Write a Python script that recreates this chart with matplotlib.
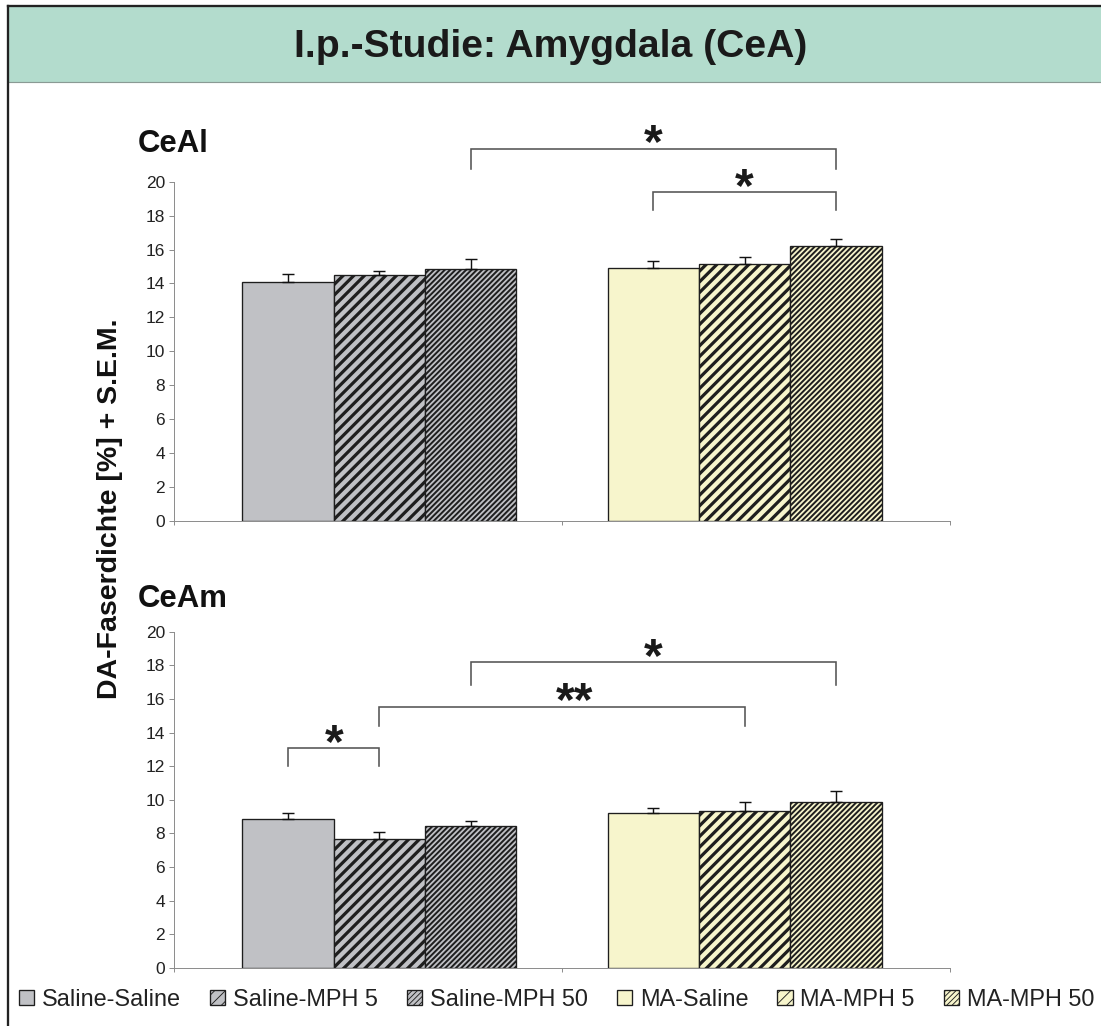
import matplotlib
matplotlib.use("Agg")
import matplotlib.pyplot as plt
import matplotlib.patches as mpatches
import numpy as np

# ---- data -------------------------------------------------------------
groups = ["Saline-Saline", "Saline-MPH 5", "Saline-MPH 50",
          "MA-Saline", "MA-MPH 5", "MA-MPH 50"]

ceal_mean = [14.1, 14.5, 14.85, 14.9, 15.15, 16.2]
ceal_sem = [0.44, 0.25, 0.58, 0.43, 0.41, 0.44]

ceam_mean = [8.85, 7.7, 8.45, 9.2, 9.35, 9.85]
ceam_sem = [0.35, 0.37, 0.32, 0.32, 0.5, 0.68]

# significance brackets: (bar a, bar b, bar level, leg end, label)
ceal_sig = [(2, 5, 21.95, 20.77, "*"), (3, 5, 19.41, 18.34, "*")]
ceam_sig = [(0, 1, 13.1, 12.0, "*"), (1, 4, 15.55, 14.4, "**"),
            (2, 5, 18.2, 16.85, "*")]

yticks = [0, 2, 4, 6, 8, 10, 12, 14, 16, 18, 20]

# ---- styling ----------------------------------------------------------
GRAY = "#c0c1c5"
CREAM = "#f7f5cc"
face = [GRAY, GRAY, GRAY, CREAM, CREAM, CREAM]
hatch = [None, "//", "////", None, "//", "////"]
hatch_lw = [1.0, 3.6, 2.2, 1.0, 3.6, 2.2]
AXIS_C = "#8c8c8c"
BRACKET_C = "#555555"
SANS = "Liberation Sans"
# horizontal nudge (points) for the wider double-star label
label_nudge = {"*": 0.0, "**": 14.0}

DPI = 64
fig = plt.figure(figsize=(1101 / DPI, 1026 / DPI), dpi=DPI)
plt.rcParams["font.family"] = [SANS, "DejaVu Sans"]

# outer frame and title band (kept behind the axes)
fig.patches.append(mpatches.Rectangle((8 / 1101, 1 - 82 / 1026), 1.05, 76 / 1026,
                                      transform=fig.transFigure, facecolor="#b3dccd",
                                      edgecolor="none", zorder=-5))
fig.add_artist(plt.Line2D([8 / 1101, 1.0], [1 - 82 / 1026] * 2, color="#8a9a94",
                          lw=1.3, transform=fig.transFigure, zorder=-4))
fig.add_artist(plt.Line2D([8 / 1101, 1.0], [1 - 6 / 1026] * 2, color="#222222",
                          lw=2.6, transform=fig.transFigure, zorder=-4))
fig.add_artist(plt.Line2D([8 / 1101] * 2, [0.0, 1 - 6 / 1026], color="#222222",
                          lw=2.6, transform=fig.transFigure, zorder=-4))

fig.text(0.5, 1 - 47 / 1026, "I.p.-Studie: Amygdala (CeA)",
         weight="bold", fontsize=44, ha="center", va="center",
         color="#1a1a1a")

x = np.array([0, 1, 2, 4, 5, 6], dtype=float)
left, width = 174 / 1101, 776 / 1101
ax_top = fig.add_axes([left, 1 - 521 / 1026, width, 339.3 / 1026])
ax_bot = fig.add_axes([left, 1 - 968 / 1026, width, 336.3 / 1026])


def draw_panel(ax, means, sems, sig):
    for i in range(len(means)):
        with plt.rc_context({"hatch.linewidth": hatch_lw[i]}):
            ax.bar(x[i], means[i], width=1.0, color=face[i], hatch=hatch[i],
                   edgecolor="#1e1e1e", linewidth=1.5, zorder=2,
                   label=groups[i])
    ax.errorbar(x, means, yerr=[np.zeros(len(means)), sems], fmt="none",
                ecolor="#111111", elinewidth=1.6, capsize=6.5, capthick=1.6,
                zorder=3)
    ax.set_xlim(-1.25, 7.25)
    ax.set_ylim(0, 20)
    ax.set_yticks(yticks)
    ax.set_xticks([-1.25, 3, 7.25])
    ax.set_xticklabels([])
    ax.tick_params(axis="y", direction="out", length=6, width=1.1,
                   color=AXIS_C, labelsize=19.5, labelcolor="#222222", pad=4)
    ax.tick_params(axis="x", direction="out", length=5, width=1.1,
                   color=AXIS_C)
    for s in ("top", "right"):
        ax.spines[s].set_visible(False)
    for s in ("left", "bottom"):
        ax.spines[s].set_color(AXIS_C)
        ax.spines[s].set_linewidth(1.1)
    ax.set_facecolor("none")
    for a, b, h, leg, lab in sig:
        xa, xb = x[a], x[b]
        ax.plot([xa, xa, xb, xb], [leg, h, h, leg], color=BRACKET_C, lw=1.8,
                clip_on=False, zorder=4, solid_joinstyle="miter")
        ax.annotate(lab, xy=((xa + xb) / 2, h),
                    xytext=(label_nudge[lab], -10),
                    textcoords="offset points", ha="center", va="baseline",
                    fontsize=54, weight="bold", color="#1a1a1a",
                    annotation_clip=False)


draw_panel(ax_top, ceal_mean, ceal_sem, ceal_sig)
draw_panel(ax_bot, ceam_mean, ceam_sem, ceam_sig)

fig.text(138 / 1101, 1 - 152 / 1026, "CeAl", fontsize=35, weight="bold",
         ha="left", va="baseline", color="#111111")
fig.text(138 / 1101, 1 - 607 / 1026, "CeAm", fontsize=35, weight="bold",
         ha="left", va="baseline", color="#111111")
fig.text(110 / 1101, 1 - 509 / 1026, "DA-Faserdichte [%] + S.E.M.",
         rotation=90, fontsize=32, weight="bold", ha="center", va="center",
         color="#111111")

handles, labels = ax_bot.get_legend_handles_labels()
fig.legend(handles, labels, loc="center", bbox_to_anchor=(556.5 / 1101, 1 - 1000 / 1026),
           ncol=6, frameon=False, fontsize=26.5, handlelength=0.66,
           handleheight=0.62, handletextpad=0.33, columnspacing=1.22,
           borderpad=0, labelcolor="#222222")

fig.savefig("out.png", dpi=DPI, facecolor="white")
